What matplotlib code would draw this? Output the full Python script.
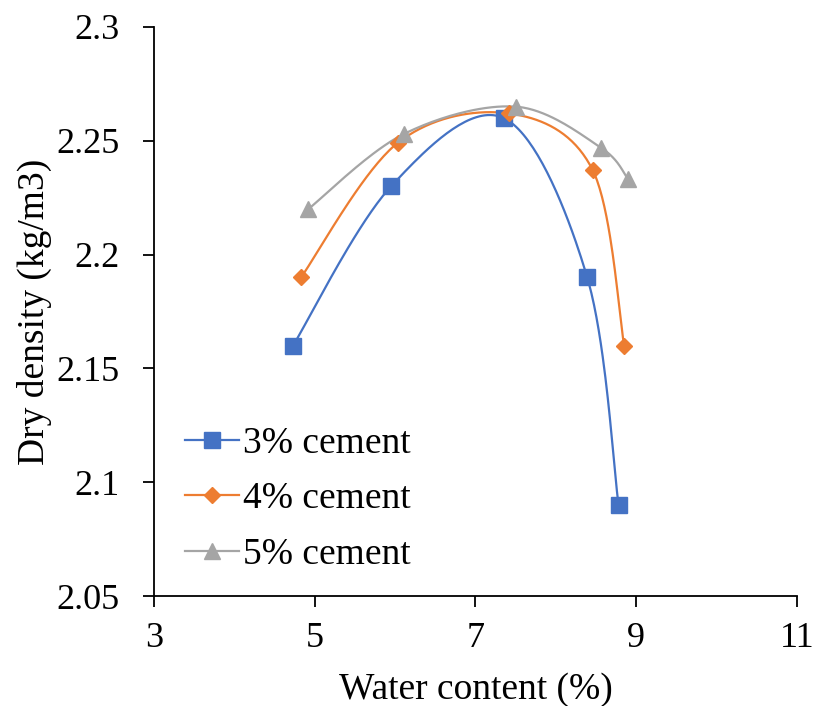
import numpy as np
import matplotlib
matplotlib.use("Agg")
import matplotlib.pyplot as plt

plt.rcParams["font.family"] = ["Liberation Serif", "DejaVu Serif"]

# water content (%) and dry density for each cement dosage
water_3 = [4.73, 5.95, 7.35, 8.39, 8.78]
dens_3 = [2.160, 2.230, 2.260, 2.190, 2.090]
water_4 = [4.83, 6.03, 7.42, 8.46, 8.85]
dens_4 = [2.190, 2.249, 2.262, 2.237, 2.160]
water_5 = [4.92, 6.11, 7.50, 8.56, 8.90]
dens_5 = [2.220, 2.253, 2.265, 2.247, 2.233]

labels = ["3% cement", "4% cement", "5% cement"]
colors = ["#4472C4", "#ED7D31", "#A5A5A5"]
markers = ["s", "D", "^"]
msizes = [11, 8.5, 11]

XLIM = (3, 11)
YLIM = (2.05, 2.3)


def smooth(x, y, sx, sy, n=40):
    # Catmull-Rom style bezier through the points, computed in screen-like units
    p = np.column_stack([np.asarray(x) * sx, np.asarray(y) * sy])
    out = []
    for i in range(len(p) - 1):
        p0 = p[i - 1] if i > 0 else p[i]
        p1, p2 = p[i], p[i + 1]
        p3 = p[i + 2] if i + 2 < len(p) else p[i + 1]
        c1 = p1 + (p2 - p0) / 6
        c2 = p2 - (p3 - p1) / 6
        t = np.linspace(0, 1, n)[:, None]
        seg = ((1 - t) ** 3) * p1 + 3 * ((1 - t) ** 2) * t * c1 \
            + 3 * (1 - t) * t ** 2 * c2 + t ** 3 * p2
        out.append(seg if i == 0 else seg[1:])
    seg = np.vstack(out)
    return seg[:, 0] / sx, seg[:, 1] / sy


fig = plt.figure(figsize=(8.13, 7.06), dpi=100)
ax = fig.add_axes([0.1894, 0.1558, 0.7909, 0.806])
ax.set_xlim(*XLIM)
ax.set_ylim(*YLIM)

# pixels per data unit on each axis
sx = 643 / (XLIM[1] - XLIM[0])
sy = 569 / (YLIM[1] - YLIM[0])

series = [(water_3, dens_3), (water_4, dens_4), (water_5, dens_5)]
for (xs, ys), lab, c, m, ms in zip(series, labels, colors, markers, msizes):
    cx, cy = smooth(xs, ys, sx, sy)
    ax.plot(cx, cy, color=c, lw=1.6, zorder=2)
    ax.plot(xs, ys, ls="none", marker=m, ms=ms, color=c, zorder=3)
    ax.plot([], [], color=c, lw=1.6, marker=m, ms=ms, label=lab)

ax.set_xticks([3, 5, 7, 9, 11])
ax.set_yticks([2.05, 2.1, 2.15, 2.2, 2.25, 2.3])
ax.set_yticklabels(["2.05", "2.1", "2.15", "2.2", "2.25", "2.3"])
ax.tick_params(labelsize=26, length=8, width=1.3, color="black")
ax.tick_params(axis="x", pad=11)
ax.tick_params(axis="y", pad=17)
for s in ["top", "right"]:
    ax.spines[s].set_visible(False)
for s in ["left", "bottom"]:
    ax.spines[s].set_linewidth(1.3)

ax.set_xlabel("Water content (%)", fontsize=27, labelpad=12)
ax.set_ylabel("Dry density (kg/m3)", fontsize=27, labelpad=3)

ax.legend(loc="lower left", bbox_to_anchor=(0.025, 0.016), frameon=False,
          fontsize=27, handlelength=1.45, handletextpad=0.1, labelspacing=0.56,
          borderaxespad=0)

fig.savefig("out.png", dpi=100)
